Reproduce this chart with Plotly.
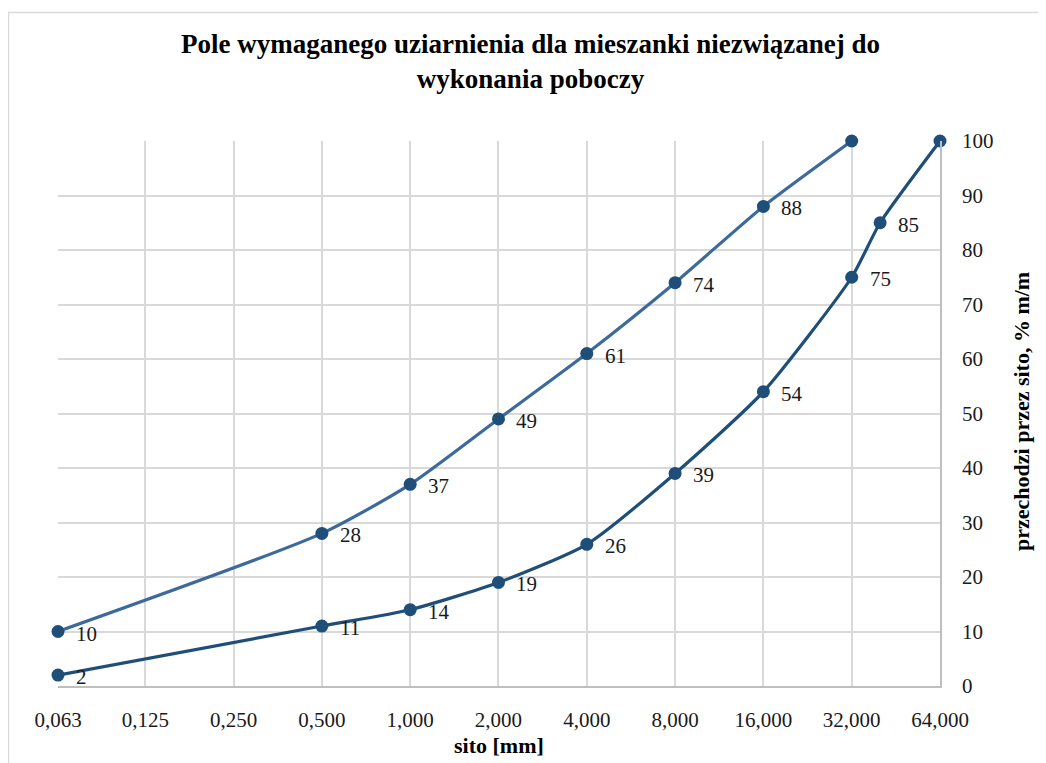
import numpy as np
import plotly.graph_objects as go

# Data
tick_vals = [0.063, 0.125, 0.25, 0.5, 1, 2, 4, 8, 16, 32, 64]
tick_text = ["0,063", "0,125", "0,250", "0,500", "1,000", "2,000", "4,000",
             "8,000", "16,000", "32,000", "64,000"]
upper_x = [0.063, 0.5, 1, 2, 4, 8, 16, 32]
upper_y = [10, 28, 37, 49, 61, 74, 88, 100]
lower_x = [0.063, 0.5, 1, 2, 4, 8, 16, 32, 40, 64]
lower_y = [2, 11, 14, 19, 26, 39, 54, 75, 85, 100]
upper_labels = [True, True, True, True, True, True, True, False]
lower_labels = [True, True, True, True, True, True, True, True, True, False]

title_text = "Pole wymaganego uziarnienia dla mieszanki niezwiązanej do<br>wykonania poboczy"
x_title = "sito [mm]"
y_title = "przechodzi przez sito, % m/m"

# page body has an 8px margin; work in page coordinates minus 8
OFF = 8
W, H = 1046 - OFF, 763 - OFF
L, T = 58 - OFF, 141 - OFF
Rr, Bb = 940 - OFF, 686 - OFF
R, B = W - Rr, H - Bb
pw, ph = Rr - L, Bb - T

def px_x(p):
    return (p - OFF - L) / pw

def px_y(p):
    return (Bb - (p - OFF)) / ph

SERIF = "Liberation Serif, Times New Roman, serif"
MARK = "#1F4E79"

fig = go.Figure()
fig.add_trace(go.Scatter(
    x=upper_x, y=upper_y, mode="lines+markers", cliponaxis=False,
    line=dict(color="#3D6A9C", width=3.2, shape="spline", smoothing=0.6),
    marker=dict(color=MARK, size=13), showlegend=False, hoverinfo="x+y"))
fig.add_trace(go.Scatter(
    x=lower_x, y=lower_y, mode="lines+markers", cliponaxis=False,
    line=dict(color=MARK, width=3.2, shape="spline", smoothing=0.6),
    marker=dict(color=MARK, size=13), showlegend=False, hoverinfo="x+y"))

annotations = []
for xs, ys, show in [(upper_x, upper_y, upper_labels), (lower_x, lower_y, lower_labels)]:
    for xv, yv, s in zip(xs, ys, show):
        if not s:
            continue
        annotations.append(dict(
            x=np.log10(xv), y=yv, xref="x", yref="y", text=str(yv),
            showarrow=False, xanchor="left", yanchor="middle",
            xshift=16, yshift=-2,
            font=dict(family=SERIF, size=21, color="#1a1a1a")))

annotations.append(dict(
    x=px_x(530), y=px_y(61), xref="paper", yref="paper",
    text="<b>" + title_text + "</b>",
    showarrow=False, xanchor="center", yanchor="middle",
    font=dict(family=SERIF, size=27, color="#000000")))
annotations.append(dict(
    x=px_x(499), y=px_y(745), xref="paper", yref="paper",
    text="<b>" + x_title + "</b>",
    showarrow=False, xanchor="center", yanchor="middle",
    font=dict(family=SERIF, size=22, color="#000000")))
annotations.append(dict(
    x=px_x(1021), y=px_y(412), xref="paper", yref="paper",
    text="<b>" + y_title + "</b>", textangle=-90,
    showarrow=False, xanchor="center", yanchor="middle",
    font=dict(family=SERIF, size=22, color="#000000")))

fig.update_layout(
    width=W, height=H,
    margin=dict(l=L, r=R, t=T, b=B, pad=0),
    paper_bgcolor="white", plot_bgcolor="white",
    annotations=annotations,
    shapes=[dict(type="rect", xref="paper", yref="paper",
                 x0=px_x(8.5), x1=px_x(1070), y0=px_y(790), y1=px_y(12.5),
                 line=dict(color="#d9d9d9", width=1.5), fillcolor="rgba(0,0,0,0)",
                 layer="below")],
    xaxis=dict(type="log", range=[np.log10(0.063), np.log10(64)],
               tickvals=tick_vals, ticktext=tick_text,
               showgrid=True, gridcolor="#d9d9d9", gridwidth=1.5,
               showline=True, linecolor="#bfbfbf", linewidth=1.5,
               ticks="", ticklabelstandoff=14,
               tickfont=dict(family=SERIF, size=21, color="#1a1a1a"),
               zeroline=False, fixedrange=True),
    yaxis=dict(range=[0, 100], side="right", tickvals=list(range(0, 101, 10)),
               showgrid=True, gridcolor="#d9d9d9", gridwidth=1.5,
               showline=True, linecolor="#bfbfbf", linewidth=1.5,
               ticks="", ticklabelstandoff=16,
               tickfont=dict(family=SERIF, size=21, color="#1a1a1a"),
               zeroline=False, fixedrange=True),
)

fig.write_html("out.html")
